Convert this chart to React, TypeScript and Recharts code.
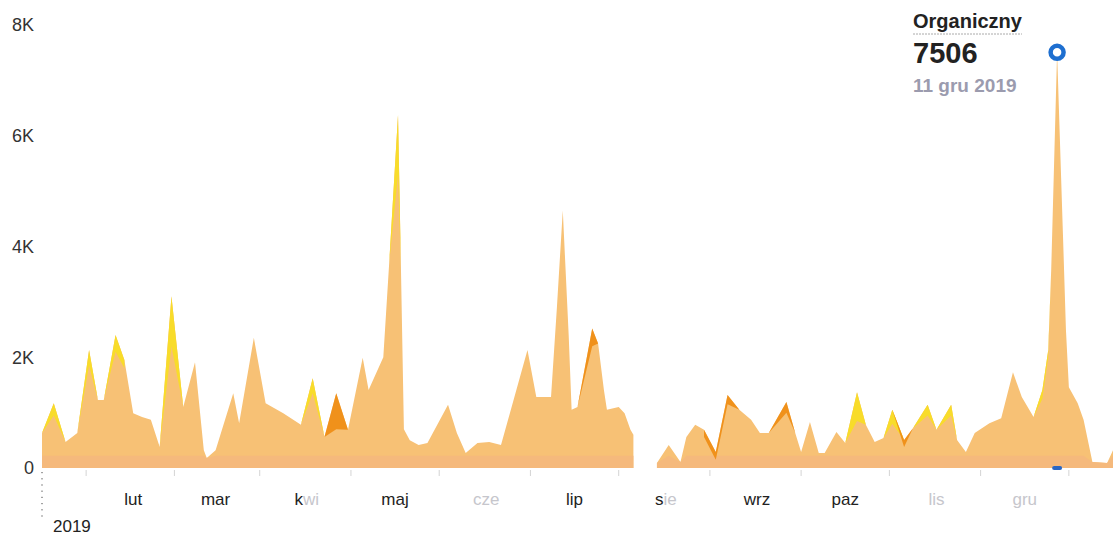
import React from "react";
import { AreaChart, Area, XAxis, YAxis, ReferenceDot } from "recharts";

// day of year 2019 (0 = 1 sty) and daily visits
const days = [
  0, 4, 8, 12, 16, 19, 21, 25, 28, 31,
  34, 37, 40, 44, 48, 52, 55, 56, 59, 65,
  67, 72, 76, 82, 88, 92, 96, 100, 104, 109,
  111, 116, 118, 121, 122, 123, 125, 128, 131, 138,
  141, 144, 148, 152, 156, 165, 168, 173, 175, 177,
  179, 180, 182, 187, 189, 191, 192, 196, 198, 200,
  201, 205, 209, 213, 217, 219, 222, 225, 229, 233,
  237, 241, 244, 247, 253, 256, 258, 261, 264, 266,
  270, 273, 277, 280, 283, 286, 289, 293, 296, 301,
  304, 309, 311, 314, 317, 322, 326, 330, 333, 337,
  340, 342, 343, 345, 347, 348, 349, 352, 354, 357,
  362, 364,
];

const organiczny: (number | null)[] = [
  630, 1170, 470, 630, 2130, 1230, 1230, 2400, 1950, 990,
  920, 870, 380, 3100, 1100, 1910, 320, 180, 320, 1350,
  810, 2350, 1170, 990, 780, 1620, 560, 1350, 690, 1990,
  1410, 2000, 3700, 6375, 3600, 700, 500, 415, 450, 1140,
  630, 270, 450, 470, 415, 2130, 1280, 1280, 2900, 4650,
  2400, 1050, 1100, 2520, 2250, 1400, 1050, 1100, 990, 690,
  600, null, 90, 415, 110, 560, 780, 690, 290, 1320,
  1050, 870, 630, 630, 1190, 630, 290, 830, 270, 270,
  650, 450, 1370, 780, 470, 540, 1050, 505, 720, 1140,
  690, 1140, 505, 290, 630, 810, 900, 1730, 1280, 920,
  1410, 2130, 3580, 7506, 4200, 2500, 1460, 1170, 870, 110,
  90, 320,
];

const bezposredni: (number | null)[] = [
  220, 220, 220, 220, 220, 220, 220, 220, 220, 220,
  220, 220, 220, 220, 220, 220, 220, 180, 220, 220,
  220, 220, 220, 220, 220, 220, 220, 220, 220, 220,
  220, 220, 220, 220, 220, 220, 220, 220, 220, 220,
  220, 220, 220, 220, 220, 220, 220, 220, 220, 220,
  220, 220, 220, 220, 220, 220, 220, 220, 220, 220,
  220, null, 90, 220, 110, 220, 220, 220, 220, 220,
  220, 220, 220, 220, 220, 220, 220, 220, 220, 220,
  220, 220, 220, 220, 220, 220, 220, 220, 220, 220,
  220, 220, 220, 220, 220, 220, 220, 220, 220, 220,
  220, 220, 220, 220, 220, 220, 220, 220, 220, 110,
  90, 220,
];

// [day, low, high] patches of the other sources on top of the peaks
const odeslania: [number, number, number][] = [
  [0, 630, 630], [4, 950, 1170], [8, 470, 470],
  [12, 630, 630], [16, 1850, 2130], [19, 1230, 1230],
  [21, 1230, 1230], [25, 2100, 2400], [28, 1800, 1950],
  [40, 380, 380], [44, 2200, 3100], [48, 1100, 1100],
  [88, 780, 780], [92, 1350, 1620], [96, 560, 560],
  [118, 3700, 3700], [121, 5300, 6375], [122, 3600, 3600],
  [273, 450, 450], [277, 850, 1370], [280, 780, 780],
  [286, 540, 540], [289, 800, 1050], [293, 505, 505],
  [296, 720, 720], [301, 950, 1140], [304, 690, 690],
  [309, 950, 1140], [311, 505, 505],
  [337, 920, 920], [340, 1250, 1410], [342, 2000, 2130], [343, 3580, 3580],
];

const platny: [number, number, number][] = [
  [96, 560, 560], [100, 700, 1350], [104, 690, 690],
  [182, 1100, 1100], [187, 2200, 2520], [189, 2250, 2250],
  [225, 560, 690], [229, 150, 290], [233, 1150, 1320], [237, 1050, 1050],
  [247, 630, 630], [253, 1000, 1190], [256, 630, 630],
  [289, 1050, 1050], [293, 380, 505], [296, 720, 720],
];

const monthStarts = [31, 59, 90, 120, 151, 181, 212, 243, 273, 304, 334];
const monthLabels = ["lut", "mar", "kwi", "maj", "cze", "lip", "sie", "wrz", "paz", "lis", "gru"];
const midMonths = [15, 45, 74, 105, 135, 166, 196, 227, 258, 288, 319, 349];
const yTicks = [0, 2000, 4000, 6000, 8000];
const yearLabel = "2019";

const seriesName = "Organiczny";
const peakDay = 345;
const peakValue = 7506;
const peakDate = "11 gru 2019";

// labels that came out washed-out in the screenshot: index where the faded part starts
const fadeFrom: Record<string, number> = { kwi: 1, cze: 0, sie: 1, lis: 0, gru: 0 };

const font = "'Liberation Sans', Arial, sans-serif";

const pick = (list: [number, number, number][], d: number) => {
  const hit = list.find((p) => p[0] === d);
  return hit ? [hit[1], hit[2]] : null;
};

const rows = days.map((d, i) => ({
  day: d,
  org: organiczny[i],
  base: bezposredni[i],
  ref: pick(odeslania, d),
  paid: pick(platny, d),
}));

const xTicks = [0, ...midMonths, ...monthStarts].sort((a, b) => a - b);

function MonthTick(props: any) {
  const { x, y, payload } = props;
  const v = payload.value;
  if (v === 0) {
    return (
      <g>
        <line x1={x} x2={x} y1={y + 4} y2={y + 52} stroke="#444" strokeDasharray="1.2 5" />
        <text x={x + 11} y={y + 64} fontSize={17} fontFamily={font} fill="#222">
          {yearLabel}
        </text>
      </g>
    );
  }
  const idx = monthStarts.indexOf(v);
  if (idx < 0) {
    return <line x1={x} x2={x} y1={y + 2} y2={y + 8} stroke="#d4d4d4" />;
  }
  const label = monthLabels[idx];
  const cut = fadeFrom[label] ?? label.length;
  return (
    <text x={x} y={y + 37} textAnchor="middle" fontSize={17} fontFamily={font}>
      <tspan fill="#222">{label.slice(0, cut)}</tspan>
      <tspan fill="#c6c6cc">{label.slice(cut)}</tspan>
    </text>
  );
}

export default function App() {
  return (
    <div style={{ position: "absolute", left: 0, top: 0, width: 1113, height: 538, background: "#fff" }}>
      <AreaChart width={1113} height={538} data={rows} margin={{ top: 25, right: 0, bottom: 0, left: 0 }}>
        <XAxis
          dataKey="day"
          type="number"
          domain={[0, 364]}
          ticks={xTicks}
          interval={0}
          height={70}
          axisLine={false}
          tickLine={false}
          tickSize={0}
          tickMargin={0}
          tick={<MonthTick />}
        />
        <YAxis
          domain={[0, 8000]}
          ticks={yTicks}
          width={42}
          axisLine={false}
          tickLine={false}
          tick={{ fill: "#333", fontSize: 18, fontFamily: font }}
          tickFormatter={(v: number) => (v === 0 ? "0" : `${v / 1000}K`)}
        />
        <Area
          dataKey="org"
          type="linear"
          fill="#F7C175"
          fillOpacity={1}
          stroke="none"
          dot={false}
          activeDot={false}
          isAnimationActive={false}
        />
        <Area
          dataKey="base"
          type="linear"
          fill="#F5B97C"
          fillOpacity={1}
          stroke="none"
          dot={false}
          activeDot={false}
          isAnimationActive={false}
        />
        <Area
          dataKey="ref"
          type="linear"
          fill="#F8DC2A"
          fillOpacity={1}
          stroke="none"
          dot={false}
          activeDot={false}
          isAnimationActive={false}
        />
        <Area
          dataKey="paid"
          type="linear"
          fill="#EE8C12"
          fillOpacity={0.9}
          stroke="none"
          dot={false}
          activeDot={false}
          isAnimationActive={false}
        />
        <ReferenceDot
          x={peakDay}
          y={0}
          r={3}
          shape={(p: any) => <rect x={p.cx - 5} y={p.cy - 2} width={10} height={4} rx={2} fill="#2A66C4" />}
        />
        <ReferenceDot x={peakDay} y={peakValue} r={6.5} fill="#fff" stroke="#1E6FD0" strokeWidth={4.5} />
      </AreaChart>
      <svg
        width={1113}
        height={538}
        style={{ position: "absolute", left: 0, top: 0, pointerEvents: "none" }}
      >
        <text x={913} y={28} fontSize={20} fontWeight="bold" fontFamily={font} fill="#222">
          {seriesName}
        </text>
        <line x1={913} x2={1022} y1={34} y2={34} stroke="#aaa" strokeDasharray="2 1" />
        <text x={913} y={63} fontSize={29} fontWeight="bold" fontFamily={font} fill="#222">
          {peakValue}
        </text>
        <text x={913} y={92} fontSize={19} fontWeight="bold" fontFamily={font} fill="#9b9bae">
          {peakDate}
        </text>
      </svg>
    </div>
  );
}
